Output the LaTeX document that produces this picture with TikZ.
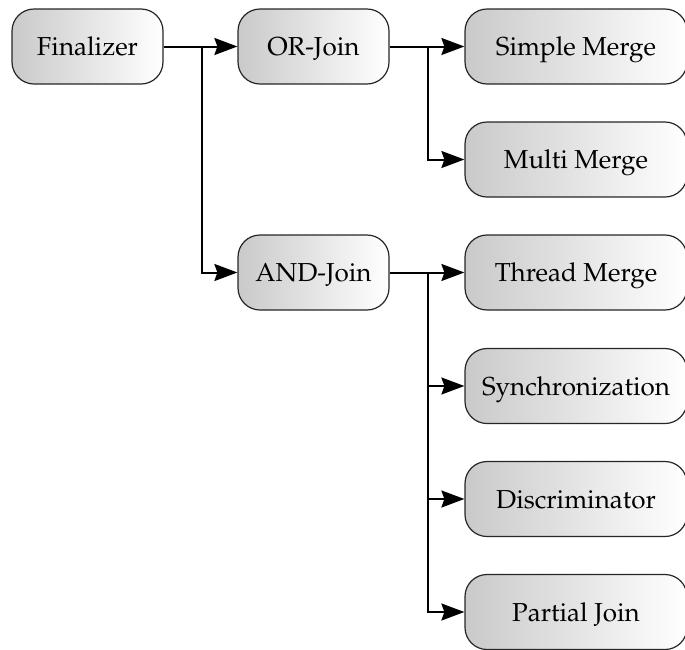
\documentclass[tikz,border=0pt]{standalone}
\usepackage[T1]{fontenc}
\usepackage{mathpazo}
\usetikzlibrary{arrows.meta,positioning}
\tikzset{
  box/.style={draw=black!85, line width=1.2pt, rounded corners=22pt,
    left color=black!21, right color=white, shading angle=90,
    minimum height=75pt, inner sep=0pt, text height=18pt, text depth=0pt,
    font=\fontsize{26}{30}\selectfont},
  smallbox/.style={box, minimum width=151pt},
  bigbox/.style={box, minimum width=222pt},
  conn/.style={line width=2pt, -{Stealth[length=23pt,width=17pt,inset=3pt]}},
  trunk/.style={line width=2pt}
}
\begin{document}
\begin{tikzpicture}[x=1pt,y=-1pt]
\useasboundingbox (0,0) rectangle (685,649);
\node[smallbox] (fin) at (87.5,46.5) {Finalizer};
\node[smallbox] (or) at (313.5,46.5) {OR-Join};
\node[smallbox] (and) at (313.5,272.5) {AND-Join};
\node[bigbox] (sm) at (576,46.5) {Simple Merge};
\node[bigbox] (mm) at (576,159.5) {Multi Merge};
\node[bigbox] (tm) at (576,272.5) {Thread Merge};
\node[bigbox] (sy) at (576,386) {Synchronization};
\node[bigbox] (di) at (576,499) {Discriminator};
\node[bigbox] (pj) at (576,612) {Partial Join};
\coordinate (j1) at (202,46.5);
\coordinate (j2) at (428,46.5);
\coordinate (j3) at (428,272.5);
\draw[trunk] (fin.east) -- (j1);
\draw[conn] (j1) -- (or.west);
\draw[conn] (j1) |- (and.west);
\draw[trunk] (or.east) -- (j2);
\draw[conn] (j2) -- (sm.west);
\draw[conn] (j2) |- (mm.west);
\draw[trunk] (and.east) -- (j3);
\draw[conn] (j3) -- (tm.west);
\draw[conn] (j3) |- (sy.west);
\draw[conn] (j3) |- (di.west);
\draw[conn] (j3) |- (pj.west);
\end{tikzpicture}
\end{document}
